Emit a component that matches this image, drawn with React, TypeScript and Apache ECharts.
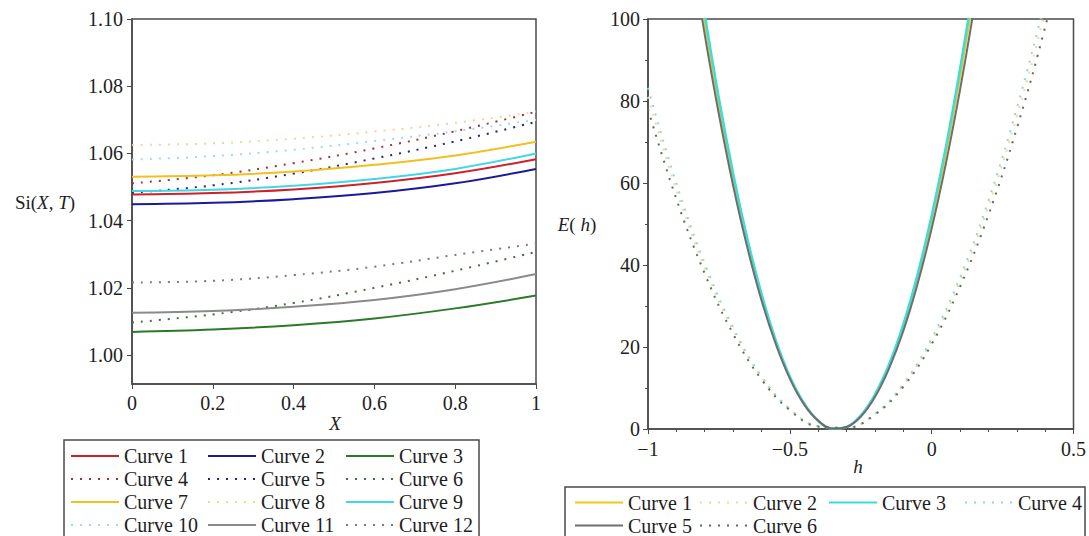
import { useEffect, useRef } from "react";
import * as echarts from "echarts";

// ---------- Left chart data: Si(X, T) ----------
const xValues = [0, 0.2, 0.4, 0.6, 0.8, 1];
const si1 = [1.0478, 1.0482, 1.0493, 1.0512, 1.0541, 1.0583];
const si2 = [1.0449, 1.0453, 1.0464, 1.0482, 1.0511, 1.0554];
const si3 = [1.0069, 1.0076, 1.0089, 1.0109, 1.0139, 1.0177];
const si4 = [1.0511, 1.0535, 1.0571, 1.0615, 1.0666, 1.0724];
const si5 = [1.0483, 1.0505, 1.054, 1.0585, 1.0636, 1.0694];
const si6 = [1.0097, 1.0121, 1.0155, 1.02, 1.0251, 1.0307];
const si7 = [1.0531, 1.0535, 1.0546, 1.0566, 1.0594, 1.0635];
const si8 = [1.0625, 1.063, 1.0644, 1.0665, 1.0691, 1.0724];
const si9 = [1.0488, 1.0492, 1.0504, 1.0524, 1.0554, 1.06];
const si10 = [1.0582, 1.0592, 1.0611, 1.0637, 1.0666, 1.07];
const si11 = [1.0126, 1.0131, 1.0144, 1.0164, 1.0196, 1.0241];
const si12 = [1.0216, 1.0221, 1.0238, 1.0263, 1.0298, 1.0332];
const leftNames = [
  "Curve 1", "Curve 2", "Curve 3", "Curve 4", "Curve 5", "Curve 6",
  "Curve 7", "Curve 8", "Curve 9", "Curve 10", "Curve 11", "Curve 12",
];
const leftYTicks = [1.0, 1.02, 1.04, 1.06, 1.08, 1.1];

// ---------- Right chart data: E(h) ----------
const hSolid = [
  -0.9, -0.85, -0.8, -0.75, -0.7, -0.65, -0.6, -0.55, -0.5, -0.45, -0.4, -0.35,
  -0.3, -0.25, -0.2, -0.15, -0.1, -0.05, 0, 0.05, 0.1, 0.15, 0.2,
];
const e1 = [
  145.8, 121.2, 98.8, 78.7, 60.9, 45.4, 32.2, 21.2, 12.5, 6.2, 2.0, 0.1,
  0.5, 3.2, 8.2, 15.4, 24.9, 36.7, 50.8, 67.1, 85.7, 106.6, 129.8,
];
const e3 = [
  149.3, 124.1, 101.2, 80.6, 62.4, 46.5, 33.0, 21.7, 12.8, 6.3, 2.0, 0.1,
  0.5, 3.3, 8.4, 15.8, 25.5, 37.6, 52.0, 68.7, 87.8, 109.2, 132.9,
];
const e5 = [
  141.8, 117.9, 96.2, 76.7, 59.4, 44.3, 31.4, 20.8, 12.3, 6.0, 2.0, 0.1,
  0.5, 3.0, 7.8, 14.8, 23.9, 35.3, 48.9, 64.7, 82.7, 102.9, 125.3,
];
const hDotted = [
  -1, -0.9, -0.8, -0.7, -0.6, -0.5, -0.4, -0.3, -0.2, -0.1, 0, 0.1, 0.2, 0.3, 0.4, 0.5,
];
const e2 = [81.0, 58.3, 39.3, 24.2, 12.6, 4.8, 0.7, 0.3, 3.6, 10.7, 21.5, 36.0, 54.3, 76.2, 101.9, 131.3];
const e4 = [83.2, 59.9, 40.4, 24.8, 12.9, 4.9, 0.7, 0.3, 3.7, 11.0, 22.1, 37.0, 55.7, 78.2, 104.6, 134.8];
const e6 = [78.0, 56.1, 37.9, 23.2, 12.1, 4.6, 0.6, 0.3, 3.5, 10.3, 20.7, 34.7, 52.2, 73.3, 98.0, 126.3];
const rightNames = ["Curve 1", "Curve 2", "Curve 3", "Curve 4", "Curve 5", "Curve 6"];
const rightXTicks = [-1, -0.5, 0, 0.5];

// ---------- styles ----------
const serif = "'Liberation Serif', 'Times New Roman', serif";
const ink = "#1e1e1e";
const frame = "#4a4a4a";

const leftStyles = [
  { color: "#D0202A", dotted: false },
  { color: "#1A1A9A", dotted: false },
  { color: "#2A7A2A", dotted: false },
  { color: "#A0303A", dotted: true },
  { color: "#22228A", dotted: true },
  { color: "#3F6F3F", dotted: true },
  { color: "#F0C020", dotted: false },
  { color: "#F0D498", dotted: true },
  { color: "#40D8E8", dotted: false },
  { color: "#9EDCEC", dotted: true },
  { color: "#8A8A8A", dotted: false },
  { color: "#7A7A7A", dotted: true },
];
const rightStyles = [
  { color: "#F0C818", dotted: false },
  { color: "#E6DE9E", dotted: true },
  { color: "#3EDCD8", dotted: false },
  { color: "#92D8CC", dotted: true },
  { color: "#6E6E6E", dotted: false },
  { color: "#5E6E5E", dotted: true },
];

function lineSeries(name: string, data: any[], st: { color: string; dotted: boolean }, width = 2) {
  return {
    type: "line",
    name,
    data,
    symbol: "none",
    showSymbol: false,
    smooth: 0.4,
    silent: true,
    clip: true,
    lineStyle: { color: st.color, width, type: st.dotted ? [2, 7] : "solid" },
    itemStyle: { color: st.color },
  };
}

function legendCol(names: string[], left: number, top: number) {
  return {
    orient: "vertical",
    left,
    top,
    height: 120,
    padding: 0,
    itemGap: 0,
    itemWidth: 48,
    itemHeight: 14,
    selectedMode: false,
    itemStyle: { opacity: 0 },
    data: names,
    textStyle: { fontFamily: serif, fontSize: 20, color: ink, lineHeight: 23 },
  };
}

const axisLine = { show: true, onZero: false, lineStyle: { color: frame, width: 1.5 } };
const tickLabel = { color: ink, fontFamily: serif, fontSize: 20 };

export default function App() {
  const leftRef = useRef<HTMLDivElement>(null);
  const rightRef = useRef<HTMLDivElement>(null);

  useEffect(() => {
    const left = echarts.init(leftRef.current!, undefined, { renderer: "svg" });
    const right = echarts.init(rightRef.current!, undefined, { renderer: "svg" });

    const leftData = [si1, si2, si3, si4, si5, si6, si7, si8, si9, si10, si11, si12];
    left.setOption({
      animation: false,
      grid: { left: 132, top: 19, width: 404, height: 365, show: true, borderColor: frame, borderWidth: 1.5 },
      xAxis: {
        type: "value",
        min: 0,
        max: 1,
        interval: 0.2,
        axisLine,
        axisTick: { show: true, length: 5, lineStyle: { color: frame } },
        axisLabel: { ...tickLabel, margin: 9 },
        splitLine: { show: false },
      },
      yAxis: {
        type: "value",
        min: 0.9914,
        max: 1.1,
        axisLine,
        axisTick: { show: true, length: 5, lineStyle: { color: frame }, customValues: leftYTicks },
        axisLabel: { ...tickLabel, margin: 9, customValues: leftYTicks, formatter: (v: number) => v.toFixed(2) },
        splitLine: { show: false },
      },
      legend: [
        legendCol([leftNames[0], leftNames[3], leftNames[6], leftNames[9]], 70, 444.5),
        legendCol([leftNames[1], leftNames[4], leftNames[7], leftNames[10]], 207, 444.5),
        legendCol([leftNames[2], leftNames[5], leftNames[8], leftNames[11]], 345, 444.5),
      ],
      graphic: [
        {
          type: "rect",
          shape: { x: 64, y: 440, width: 415, height: 120 },
          style: { fill: "none", stroke: frame, lineWidth: 1.5 },
          silent: true,
        },
        {
          type: "text",
          x: 335,
          y: 423,
          style: { text: "X", font: `italic 19px ${serif}`, fill: ink, align: "center", verticalAlign: "middle" },
        },
        {
          type: "text",
          x: 45,
          y: 202,
          style: {
            text: "{r|Si(}{i|X}{r|, }{i|T}{r|)}",
            rich: {
              r: { fontFamily: serif, fontSize: 19, fill: ink },
              i: { fontFamily: serif, fontSize: 19, fontStyle: "italic", fill: ink },
            },
            align: "center",
            verticalAlign: "middle",
          },
        },
      ],
      series: leftData.map((d, i) =>
        lineSeries(leftNames[i], xValues.map((x, j) => [x, d[j]]), leftStyles[i])
      ),
    });

    const rightData = [
      hSolid.map((h, i) => [h, e1[i]]),
      hDotted.map((h, i) => [h, e2[i]]),
      hSolid.map((h, i) => [h, e3[i]]),
      hDotted.map((h, i) => [h, e4[i]]),
      hSolid.map((h, i) => [h, e5[i]]),
      hDotted.map((h, i) => [h, e6[i]]),
    ];
    right.setOption({
      animation: false,
      grid: { left: 103, top: 19, width: 430, height: 410, show: true, borderColor: frame, borderWidth: 1.5 },
      xAxis: {
        type: "value",
        min: -1,
        max: 0.5,
        interval: 0.5,
        axisLine,
        axisTick: { show: true, length: 5, lineStyle: { color: frame } },
        minorTick: { show: true, splitNumber: 5, length: 3, lineStyle: { color: frame } },
        axisLabel: {
          ...tickLabel,
          margin: 10,
          customValues: rightXTicks,
          formatter: (v: number) => String(v).replace("-", "\u2212"),
        },
        splitLine: { show: false },
      },
      yAxis: {
        type: "value",
        min: 0,
        max: 100,
        interval: 20,
        axisLine,
        axisTick: { show: true, length: 5, lineStyle: { color: frame } },
        minorTick: { show: true, splitNumber: 2, length: 3, lineStyle: { color: frame } },
        axisLabel: { ...tickLabel, margin: 8 },
        splitLine: { show: false },
      },
      legend: [
        legendCol([rightNames[0], rightNames[4]], 29, 491),
        legendCol([rightNames[1], rightNames[5]], 154, 491),
        legendCol([rightNames[2]], 283, 491),
        legendCol([rightNames[3]], 419, 491),
      ],
      graphic: [
        {
          type: "rect",
          shape: { x: 20, y: 487, width: 520, height: 80 },
          style: { fill: "none", stroke: frame, lineWidth: 1.5 },
          silent: true,
        },
        {
          type: "text",
          x: 313,
          y: 466,
          style: { text: "h", font: `italic 19px ${serif}`, fill: ink, align: "center", verticalAlign: "middle" },
        },
        {
          type: "text",
          x: 32,
          y: 224,
          style: {
            text: "{i|E}{r|(}{i| h}{r|)}",
            rich: {
              r: { fontFamily: serif, fontSize: 19, fill: ink },
              i: { fontFamily: serif, fontSize: 19, fontStyle: "italic", fill: ink },
            },
            align: "center",
            verticalAlign: "middle",
          },
        },
      ],
      series: rightData.map((d, i) => lineSeries(rightNames[i], d, rightStyles[i], i === 2 ? 2.5 : 2)),
    });

    return () => {
      left.dispose();
      right.dispose();
    };
  }, []);

  return (
    <div style={{ position: "absolute", left: 0, top: 0, width: 1089, height: 536, background: "#fff", overflow: "hidden" }}>
      <div ref={leftRef} style={{ position: "absolute", left: 0, top: 0, width: 545, height: 536 }} />
      <div ref={rightRef} style={{ position: "absolute", left: 545, top: 0, width: 544, height: 536 }} />
    </div>
  );
}
